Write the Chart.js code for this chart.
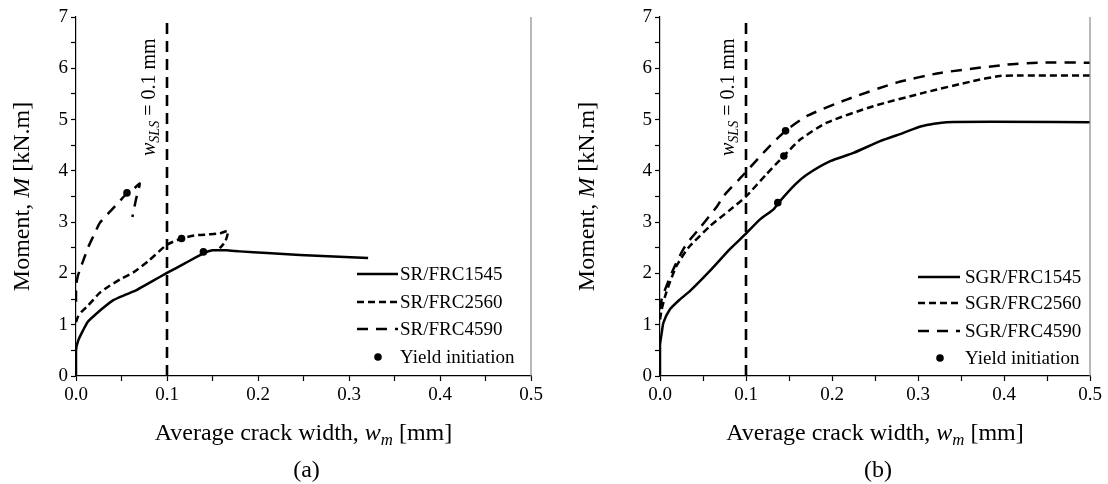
<!DOCTYPE html>
<html>
<head>
<meta charset="utf-8">
<script src="https://cdn.jsdelivr.net/npm/chart.js@4.4.1/dist/chart.umd.min.js"></script>
<style>
  html, body { margin: 0; padding: 0; background: #fff; }
  #wrap { position: relative; width: 1108px; height: 484px; overflow: hidden; }
  .panel { position: absolute; top: 0; width: 554px; height: 484px; }
</style>
</head>
<body>
<div id="wrap">
  <div class="panel" style="left:0"><canvas id="chartA" width="554" height="484"></canvas></div>
  <div class="panel" style="left:554px"><canvas id="chartB" width="554" height="484"></canvas></div>
</div>
<script>
// (a) SR beams: average crack width w_m [mm] vs moment M [kN.m]
const srW1545 = [0, 0, 0.0026, 0.008, 0.013, 0.019, 0.03, 0.041, 0.055, 0.067, 0.083, 0.1, 0.12, 0.14, 0.15, 0.165, 0.18, 0.21, 0.246, 0.283, 0.321];
const srM1545 = [0, 0.5, 0.7, 0.9, 1.06, 1.16, 1.33, 1.48, 1.59, 1.68, 1.84, 2.01, 2.2, 2.39, 2.45, 2.45, 2.43, 2.40, 2.36, 2.33, 2.30];
const srW2560 = [0, 0.002, 0.006, 0.012, 0.026, 0.037, 0.05, 0.063, 0.08, 0.1, 0.116, 0.13, 0.145, 0.158, 0.167, 0.164, 0.158];
const srM2560 = [1.05, 1.15, 1.25, 1.35, 1.62, 1.76, 1.9, 2.02, 2.25, 2.56, 2.68, 2.74, 2.76, 2.78, 2.83, 2.62, 2.49];
const srW4590 = [0, 0, 0.002, 0.0045, 0.009, 0.0136, 0.02, 0.026, 0.036, 0.046, 0.056, 0.064, 0.07, 0.066, 0.062];
const srM4590 = [1.45, 1.75, 1.95, 2.08, 2.3, 2.52, 2.76, 2.98, 3.18, 3.37, 3.56, 3.66, 3.75, 3.45, 3.1];
const srYieldW = [0.14, 0.116, 0.056];
const srYieldM = [2.42, 2.68, 3.57];

// (b) SGR beams
const sgrW1545 = [0, 0, 0.002, 0.004, 0.0116, 0.023, 0.035, 0.058, 0.081, 0.099, 0.116, 0.132, 0.138, 0.157, 0.171, 0.198, 0.225, 0.256, 0.283, 0.304, 0.333, 0.5];
const sgrM1545 = [0, 0.6, 0.84, 1.04, 1.30, 1.49, 1.66, 2.05, 2.47, 2.76, 3.05, 3.25, 3.38, 3.73, 3.93, 4.19, 4.35, 4.58, 4.74, 4.87, 4.95, 4.95];
const sgrW2560 = [0, 0.002, 0.006, 0.012, 0.019, 0.033, 0.058, 0.08, 0.1, 0.124, 0.144, 0.163, 0.194, 0.248, 0.306, 0.364, 0.395, 0.42, 0.5];
const sgrM2560 = [1.1, 1.3, 1.56, 1.85, 2.14, 2.5, 2.92, 3.22, 3.5, 3.94, 4.29, 4.61, 4.94, 5.26, 5.52, 5.75, 5.85, 5.86, 5.86];
const sgrW4590 = [0, 0.002, 0.006, 0.0155, 0.027, 0.035, 0.0465, 0.066, 0.074, 0.099, 0.124, 0.146, 0.171, 0.217, 0.275, 0.326, 0.403, 0.442, 0.5];
const sgrM4590 = [1.3, 1.5, 1.69, 2.08, 2.47, 2.66, 2.89, 3.3, 3.51, 3.96, 4.42, 4.78, 5.07, 5.39, 5.72, 5.91, 6.07, 6.11, 6.11];
const sgrYieldW = [0.137, 0.144, 0.146];
const sgrYieldM = [3.38, 4.29, 4.78];

// serviceability crack width limit
const slsW = [0.1, 0.1];
const slsM = [0, 7];

const srLabels = ['SR/FRC1545', 'SR/FRC2560', 'SR/FRC4590', 'Yield initiation'];
const sgrLabels = ['SGR/FRC1545', 'SGR/FRC2560', 'SGR/FRC4590', 'Yield initiation'];

const SERIF = '"Liberation Serif", "Times New Roman", serif';
const DASH_SHORT = [7, 4];
const DASH_LONG = [11, 8];

function pts(ws, ms) { return ws.map((w, i) => ({ x: w, y: ms[i] })); }

function lineSet(label, ws, ms, dash) {
  return {
    label, data: pts(ws, ms), showLine: true, borderColor: '#000', borderWidth: 2.5,
    borderDash: dash, pointRadius: 0, tension: 0.2, fill: false, inLegend: true
  };
}

// draws a run of text pieces: [text, style] where style may contain 'i' (italic) and 's' (subscript)
function drawRich(ctx, parts, x, y, size, rotated, align) {
  ctx.save();
  ctx.translate(x, y);
  if (rotated) ctx.rotate(-Math.PI / 2);
  const fontOf = p => {
    const sz = p[1].includes('s') ? size * 0.7 : size;
    return (p[1].includes('i') ? 'italic ' : '') + sz + 'px ' + SERIF;
  };
  let total = 0;
  parts.forEach(p => { ctx.font = fontOf(p); total += ctx.measureText(p[0]).width; });
  let cx = align === 'center' ? -total / 2 : 0;
  ctx.fillStyle = '#000';
  ctx.textAlign = 'left';
  ctx.textBaseline = 'alphabetic';
  parts.forEach(p => {
    ctx.font = fontOf(p);
    const dy = p[1].includes('s') ? size * 0.22 : 0;
    ctx.fillText(p[0], cx, dy);
    cx += ctx.measureText(p[0]).width;
  });
  ctx.restore();
}

function makePanel(canvasId, sets, yieldW, yieldM, labels, L) {
  const datasets = [
    lineSet(labels[0], sets[0][0], sets[0][1], []),
    lineSet(labels[1], sets[1][0], sets[1][1], DASH_SHORT),
    lineSet(labels[2], sets[2][0], sets[2][1], DASH_LONG),
    {
      label: labels[3], data: pts(yieldW, yieldM), showLine: false,
      pointRadius: 3.8, pointBackgroundColor: '#000', pointBorderWidth: 0, inLegend: true
    },
    {
      label: 'SLS limit', data: pts(slsW, slsM), showLine: true, borderColor: '#000',
      borderWidth: 2.6, borderDash: [11, 7], pointRadius: 0, tension: 0
    }
  ];

  const decor = {
    id: 'decor',
    afterDatasetsDraw(chart) {
      const ctx = chart.ctx;
      const a = chart.chartArea;
      // right frame of the plot area
      ctx.save();
      ctx.strokeStyle = '#8a8a8a';
      ctx.lineWidth = 1.2;
      ctx.beginPath();
      ctx.moveTo(a.right, a.top);
      ctx.lineTo(a.right, a.bottom);
      ctx.stroke();

      // legend
      ctx.fillStyle = '#fff';
      ctx.fillRect(L.boxX, L.boxY, a.right - 1 - L.boxX, L.boxH);
      ctx.strokeStyle = '#000';
      ctx.lineWidth = 2.5;
      const dashes = [[], DASH_SHORT, DASH_LONG];
      for (let i = 0; i < 3; i++) {
        ctx.setLineDash(dashes[i]);
        ctx.beginPath();
        ctx.moveTo(L.x0, L.rows[i]);
        ctx.lineTo(L.x1, L.rows[i]);
        ctx.stroke();
      }
      ctx.setLineDash([]);
      ctx.fillStyle = '#000';
      ctx.beginPath();
      ctx.arc(L.dotX, L.rows[3], 3.8, 0, Math.PI * 2);
      ctx.fill();
      ctx.font = '19px ' + SERIF;
      ctx.textAlign = 'left';
      ctx.textBaseline = 'middle';
      for (let i = 0; i < 4; i++) ctx.fillText(labels[i], L.tx, L.rows[i] + 1);
      ctx.restore();

      // crack width limit note beside the dashed line
      drawRich(ctx, [['w', 'i'], ['SLS', 'si'], [' = 0.1 mm', '']], L.noteX, 156, 20, true, 'left');

      // axis titles and panel caption
      const midX = (a.left + a.right) / 2;
      drawRich(ctx, [['Average crack width, ', ''], ['w', 'i'], ['m', 'si'], [' [mm]', '']], midX, 440, 24, false, 'center');
      drawRich(ctx, [['Moment, ', ''], ['M', 'i'], [' [kN.m]', '']], L.yTitleX, (a.top + a.bottom) / 2, 24, true, 'center');
      drawRich(ctx, [[L.caption, '']], midX + 3, 477, 24, false, 'center');
    }
  };

  const tickFont = { family: SERIF, size: 19 };
  return new Chart(document.getElementById(canvasId), {
    type: 'scatter',
    data: { datasets },
    options: {
      responsive: false,
      animation: false,
      devicePixelRatio: 1,
      layout: { padding: { top: 17, right: L.padRight, left: 0, bottom: 0 } },
      plugins: { legend: { display: false }, tooltip: { enabled: false } },
      scales: {
        x: {
          type: 'linear', min: 0, max: 0.5,
          afterFit(s) { s.height = 108; },
          border: { display: true, color: '#000', width: 1.2 },
          grid: { drawOnChartArea: false, drawTicks: true, tickLength: 5, tickColor: '#000', tickWidth: 1.2 },
          ticks: {
            stepSize: 0.05, autoSkip: false, maxRotation: 0, color: '#000', font: tickFont, padding: 3,
            callback(v) {
              const t = v * 10;
              return Math.abs(t - Math.round(t)) < 1e-6 ? (Math.round(t) / 10).toFixed(1) : '';
            }
          }
        },
        y: {
          type: 'linear', min: 0, max: 7,
          afterFit(s) { s.width = L.yWidth; },
          border: { display: true, color: '#000', width: 1.2 },
          grid: { drawOnChartArea: false, drawTicks: true, tickLength: 5, tickColor: '#000', tickWidth: 1.2 },
          ticks: {
            stepSize: 0.5, autoSkip: false, color: '#000', font: tickFont, padding: 3,
            callback(v) { return Number.isInteger(v) ? String(v) : ''; }
          }
        }
      }
    },
    plugins: [decor]
  });
}

makePanel('chartA',
  [[srW1545, srM1545], [srW2560, srM2560], [srW4590, srM4590]],
  srYieldW, srYieldM, srLabels,
  { yWidth: 76, padRight: 23, boxX: 352, boxY: 262, boxH: 108, x0: 357, x1: 398, tx: 400,
    dotX: 378, rows: [274, 302, 329, 357], noteX: 155, yTitleX: 29, caption: '(a)' });

makePanel('chartB',
  [[sgrW1545, sgrM1545], [sgrW2560, sgrM2560], [sgrW4590, sgrM4590]],
  sgrYieldW, sgrYieldM, sgrLabels,
  { yWidth: 106, padRight: 18, boxX: 360, boxY: 264, boxH: 106, x0: 364, x1: 406, tx: 411,
    dotX: 386, rows: [277, 303, 331, 358], noteX: 180, yTitleX: 40, caption: '(b)' });
</script>
</body>
</html>
